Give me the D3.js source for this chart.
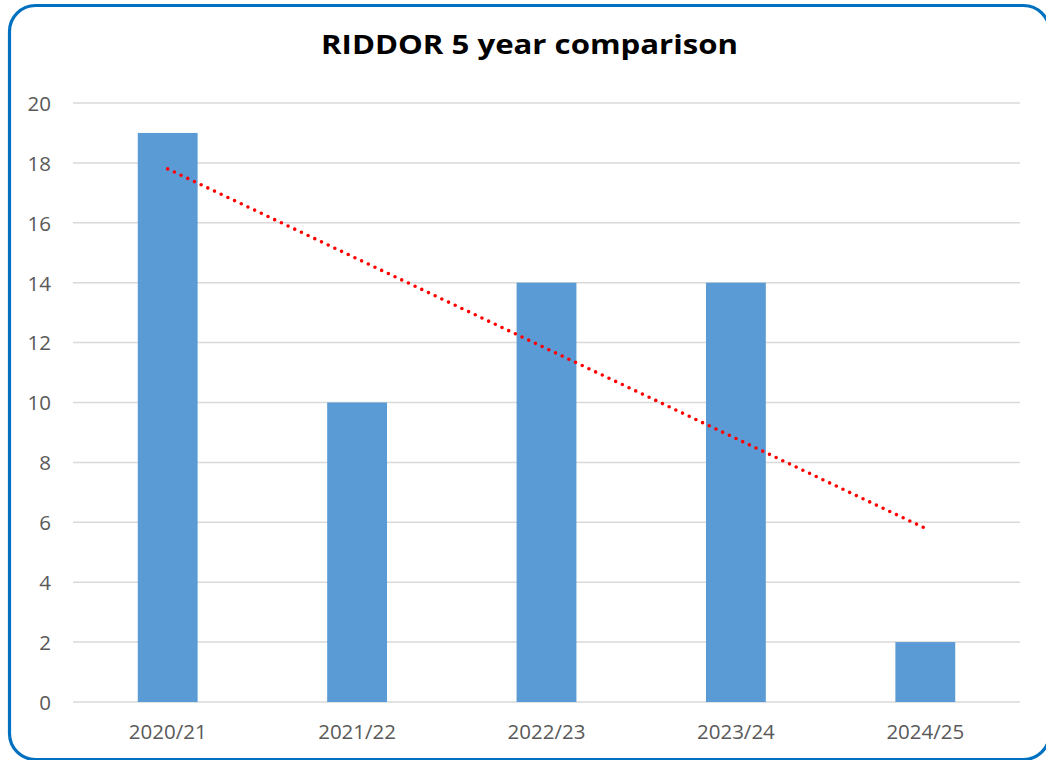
<!DOCTYPE html>
<html>
<head>
<meta charset="utf-8">
<script src="https://cdn.jsdelivr.net/npm/d3@7/dist/d3.min.js"></script>
<style>
  html, body { margin: 0; padding: 0; background: #ffffff; overflow: hidden; }
  svg { display: block; }
</style>
</head>
<body>
<svg id="chart" width="1046" height="760"></svg>
<script>
// RIDDOR reportable incidents per financial year
const years = ["2020/21", "2021/22", "2022/23", "2023/24", "2024/25"];
const incidents = [19, 10, 14, 14, 2];
const yTicks = [0, 2, 4, 6, 8, 10, 12, 14, 16, 18, 20];
const chartTitle = "RIDDOR 5 year comparison";

const svg = d3.select("#chart");

// Rounded frame around the chart area (runs slightly past the right/bottom edge)
svg.append("rect")
  .attr("x", 9.5).attr("y", 5.5)
  .attr("width", 1040).attr("height", 754)
  .attr("rx", 26).attr("ry", 26)
  .attr("fill", "#ffffff")
  .attr("stroke", "#0070C0")
  .attr("stroke-width", 3.2);

const plot = { left: 73, right: 1020, top: 103, bottom: 702 };

const x = d3.scaleBand()
  .domain(years)
  .range([plot.left, plot.right])
  .paddingInner(0.684)
  .paddingOuter(0.342);

const y = d3.scaleLinear()
  .domain([0, 20])
  .range([plot.bottom, plot.top]);

const labelFont = "'Open Sans', 'Noto Sans', sans-serif";

// Horizontal gridlines
svg.append("g")
  .selectAll("line")
  .data(yTicks)
  .join("line")
  .attr("x1", plot.left).attr("x2", plot.right)
  .attr("y1", d => y(d)).attr("y2", d => y(d))
  .attr("stroke", "#d9d9d9")
  .attr("stroke-width", 1.5);

// Y axis labels
const yAxis = d3.axisLeft(y).tickValues(yTicks).tickSize(0).tickPadding(0);
const yg = svg.append("g")
  .attr("transform", `translate(${plot.left - 22},0)`)
  .call(yAxis);
yg.select(".domain").remove();
yg.selectAll("text")
  .attr("font-family", labelFont)
  .attr("font-size", 20.5)
  .attr("fill", "#595959")
  .attr("dy", "0.36em");

// Bars
svg.append("g")
  .selectAll("rect")
  .data(years.map((yr, i) => ({ yr, v: incidents[i] })))
  .join("rect")
  .attr("x", d => x(d.yr))
  .attr("y", d => y(d.v))
  .attr("width", x.bandwidth())
  .attr("height", d => y(0) - y(d.v))
  .attr("fill", "#5B9BD5");

// X axis labels
const xAxis = d3.axisBottom(x).tickSize(0).tickPadding(0);
const xg = svg.append("g")
  .attr("transform", `translate(0,${plot.bottom + 22})`)
  .call(xAxis);
xg.select(".domain").remove();
xg.selectAll("text")
  .attr("font-family", labelFont)
  .attr("font-size", 20.5)
  .attr("fill", "#595959")
  .attr("dy", "0.71em");

// Linear trendline (least squares over year index)
const idx = incidents.map((_, i) => i + 1);
const mx = d3.mean(idx), my = d3.mean(incidents);
const slope = d3.sum(idx, (k, i) => (k - mx) * (incidents[i] - my)) /
              d3.sum(idx, k => (k - mx) * (k - mx));
const intercept = my - slope * mx;
const trend = years.map((yr, i) => ({ yr, v: intercept + slope * (i + 1) }));

const line = d3.line()
  .x(d => x(d.yr) + x.bandwidth() / 2)
  .y(d => y(d.v));

svg.append("path")
  .datum(trend)
  .attr("d", line)
  .attr("fill", "none")
  .attr("stroke", "#ff0000")
  .attr("stroke-width", 3.6)
  .attr("stroke-linecap", "round")
  .attr("stroke-dasharray", "0 7.4");

// Title
svg.append("text")
  .attr("x", 529.5)
  .attr("y", 54)
  .attr("text-anchor", "middle")
  .attr("font-family", labelFont)
  .attr("font-weight", "bold")
  .attr("font-size", 27)
  .attr("textLength", 417)
  .attr("lengthAdjust", "spacingAndGlyphs")
  .attr("fill", "#000000")
  .text(chartTitle);
</script>
</body>
</html>
